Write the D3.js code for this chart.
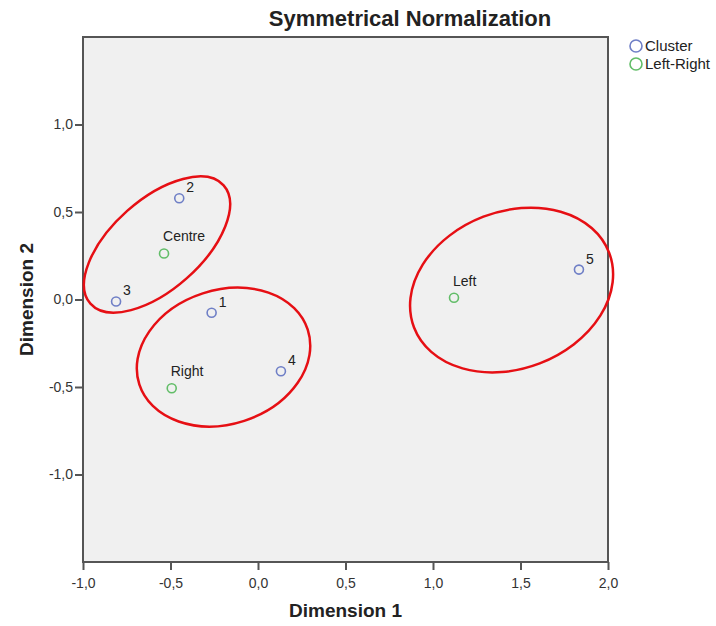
<!DOCTYPE html>
<html><head><meta charset="utf-8">
<script src="https://cdn.jsdelivr.net/npm/d3@7"></script>
<style>body{margin:0;background:#fff}svg{display:block}text{font-family:Arial,"Liberation Sans",sans-serif}</style>
</head><body>
<script>
// ---- data ----
const clusterLabels = ["1","2","3","4","5"];
const clusterDim1 = [-0.265, -0.45, -0.811, 0.131, 1.834];
const clusterDim2 = [-0.076, 0.579, -0.011, -0.41, 0.171];
const lrLabels = ["Centre","Right","Left"];
const lrDim1 = [-0.537, -0.493, 1.12];
const lrDim2 = [0.263, -0.507, 0.01];
const xTicks = [-1.0,-0.5,0.0,0.5,1.0,1.5,2.0];
const yTicks = [-1.0,-0.5,0.0,0.5,1.0];
const seriesNames = ["Cluster","Left-Right"];
// annotation ellipses: centre (dim1, dim2), semi-axes (data units), tilt in degrees
const ellipseCx = [-0.577, -0.197, 1.449];
const ellipseCy = [0.314, -0.329, 0.054];
const ellipseA = [0.509, 0.506, 0.597];
const ellipseB = [0.257, 0.383, 0.449];
const ellipseTilt = [41.6, 18, 21];

const W=716,H=626;
const m={l:83,r:108,t:37,b:64};
const svg=d3.select("body").append("svg").attr("width",W).attr("height",H);
const x=d3.scaleLinear().domain([-1,2]).range([m.l,W-m.r]);
const y=d3.scaleLinear().domain([-1.5,1.5]).range([H-m.b,m.t]);
const colors={"Cluster":"#6f7fc6","Left-Right":"#62bd68"};
const fmt=d=>d3.format(".1f")(d).replace(".",",").replace("−","-");

svg.append("rect").attr("x",m.l).attr("y",m.t).attr("width",x(2)-m.l).attr("height",y(-1.5)-m.t)
  .attr("fill","#f0f0f0").attr("stroke","#555").attr("stroke-width",2);

const xa=svg.append("g").attr("transform",`translate(0,${y(-1.5)})`)
  .call(d3.axisBottom(x).tickValues(xTicks).tickFormat(fmt).tickSize(8).tickSizeOuter(0));
const ya=svg.append("g").attr("transform",`translate(${m.l},0)`)
  .call(d3.axisLeft(y).tickValues(yTicks).tickFormat(fmt).tickSize(8).tickSizeOuter(0));
[xa,ya].forEach(g=>{g.select(".domain").remove();
  g.selectAll(".tick line").attr("stroke","#555").attr("stroke-width",2);
  g.selectAll(".tick text").attr("font-size",14).attr("fill","#333").style("font-family","Arial,'Liberation Sans',sans-serif");});
xa.selectAll(".tick text").attr("dy","1.05em");
ya.selectAll(".tick text").attr("x",-10);

// ellipses
const kx=x(1)-x(0), ky=y(0)-y(1);
ellipseCx.forEach((cx,i)=>{
  svg.append("ellipse").attr("transform",`translate(${x(cx)},${y(ellipseCy[i])}) rotate(${-ellipseTilt[i]})`)
    .attr("rx",ellipseA[i]*kx).attr("ry",ellipseB[i]*ky)
    .attr("fill","none").attr("stroke","#e60f14").attr("stroke-width",2.5);
});

// points
const g=svg.append("g");
clusterLabels.forEach((lab,i)=>{
  const px=x(clusterDim1[i]), py=y(clusterDim2[i]);
  g.append("circle").attr("cx",px).attr("cy",py).attr("r",4.5).attr("fill","none").attr("stroke",colors["Cluster"]).attr("stroke-width",1.6);
  g.append("text").attr("x",px+7).attr("y",py-6).attr("font-size",14).attr("fill","#222").text(lab);
});
lrLabels.forEach((lab,i)=>{
  const px=x(lrDim1[i]), py=y(lrDim2[i]);
  g.append("circle").attr("cx",px).attr("cy",py).attr("r",4.5).attr("fill","none").attr("stroke",colors["Left-Right"]).attr("stroke-width",1.6);
  g.append("text").attr("x",px-1).attr("y",py-12).attr("font-size",14).attr("fill","#222").text(lab);
});

// titles
svg.append("text").attr("x",410).attr("y",26).attr("text-anchor","middle").attr("font-size",22).attr("font-weight","bold").attr("fill","#222").text("Symmetrical Normalization");
svg.append("text").attr("x",(m.l+x(2))/2).attr("y",617).attr("text-anchor","middle").attr("font-size",19).attr("font-weight","bold").attr("fill","#222").text("Dimension 1");
svg.append("text").attr("transform",`translate(33,${y(0)}) rotate(-90)`).attr("text-anchor","middle").attr("font-size",19).attr("font-weight","bold").attr("fill","#222").text("Dimension 2");

// legend
seriesNames.forEach((s,i)=>{
  const ly=46+i*18;
  svg.append("circle").attr("cx",636).attr("cy",ly).attr("r",6).attr("fill","none").attr("stroke",colors[s]).attr("stroke-width",1.6);
  svg.append("text").attr("x",645).attr("y",ly+5).attr("font-size",15).attr("fill","#222").text(s);
});
</script>
</body></html>
